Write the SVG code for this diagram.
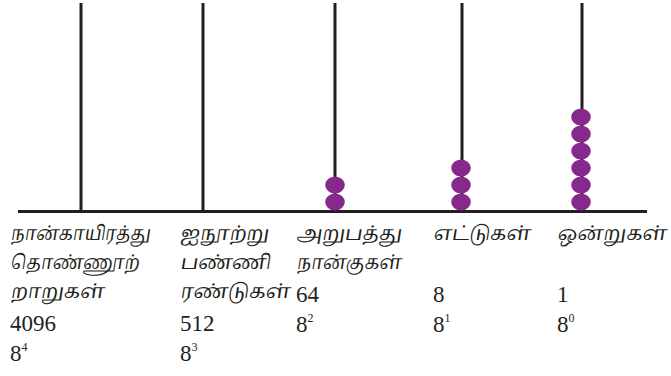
<svg xmlns="http://www.w3.org/2000/svg" width="671" height="376" viewBox="0 0 671 376">
  <style>
    .rod { stroke: #231f20; stroke-width: 3; }
    .base { stroke: #231f20; stroke-width: 3.2; }
    .bead { fill: #86288c; }
    .ta { font-family: "Noto Serif Tamil", "Noto Sans Tamil", "Lohit Tamil", "Noto Sans", sans-serif; font-size: 19.5px; fill: #231f20; }
    .num { font-family: "Liberation Serif", serif; font-size: 23px; fill: #231f20; }
    .sup { font-size: 12px; }
  </style>
  <defs>
    <ellipse id="b" rx="9.8" ry="8.6" class="bead"/>
  </defs>

  <rect width="671" height="376" fill="#ffffff"/>

  <!-- abacus frame: base bar and five rods -->
  <g id="frame">
    <line class="base" x1="18" y1="211.5" x2="647" y2="211.5"/>
    <line class="rod" x1="81" y1="3" x2="81" y2="211"/>
    <line class="rod" x1="203" y1="3" x2="203" y2="211"/>
    <line class="rod" x1="335" y1="3" x2="335" y2="211"/>
    <line class="rod" x1="462" y1="3" x2="462" y2="211"/>
    <line class="rod" x1="582" y1="3" x2="582" y2="211"/>
  </g>

  <!-- beads: 0, 0, 2, 3, 6 -->
  <g id="beads-64">
    <use href="#b" x="335" y="202"/>
    <use href="#b" x="335" y="185"/>
  </g>
  <g id="beads-8">
    <use href="#b" x="461" y="202"/>
    <use href="#b" x="461" y="185"/>
    <use href="#b" x="461" y="168"/>
  </g>
  <g id="beads-1">
    <use href="#b" x="581" y="202"/>
    <use href="#b" x="581" y="185"/>
    <use href="#b" x="581" y="168"/>
    <use href="#b" x="581" y="151"/>
    <use href="#b" x="581" y="134"/>
    <use href="#b" x="581" y="117"/>
  </g>

  <!-- place-value labels (Tamil names slanted) -->
  <g id="col-4096">
    <text class="ta" transform="translate(10 240) skewX(-9)" textLength="140" lengthAdjust="spacingAndGlyphs">நான்காயிரத்து</text>
    <text class="ta" transform="translate(10 269) skewX(-9)" textLength="129" lengthAdjust="spacingAndGlyphs">தொண்ணூற்</text>
    <text class="ta" transform="translate(10 298) skewX(-9)">றாறுகள்</text>
    <text class="num" x="10" y="331">4096</text>
    <text class="num" x="10" y="361">8<tspan class="sup" dy="-10">4</tspan></text>
  </g>
  <g id="col-512">
    <text class="ta" transform="translate(180 240) skewX(-9)">ஐநூற்று</text>
    <text class="ta" transform="translate(180 269) skewX(-9)">பண்ணி</text>
    <text class="ta" transform="translate(180 298) skewX(-9)" textLength="110" lengthAdjust="spacingAndGlyphs">ரண்டுகள்</text>
    <text class="num" x="180" y="331">512</text>
    <text class="num" x="180" y="361">8<tspan class="sup" dy="-10">3</tspan></text>
  </g>
  <g id="col-64">
    <text class="ta" transform="translate(296 240) skewX(-9)">அறுபத்து</text>
    <text class="ta" transform="translate(296 269) skewX(-9)" textLength="105" lengthAdjust="spacingAndGlyphs">நான்குகள்</text>
    <text class="num" x="296" y="302">64</text>
    <text class="num" x="296" y="332">8<tspan class="sup" dy="-10">2</tspan></text>
  </g>
  <g id="col-8">
    <text class="ta" transform="translate(433 240) skewX(-9)">எட்டுகள்</text>
    <text class="num" x="433" y="302">8</text>
    <text class="num" x="433" y="332">8<tspan class="sup" dy="-10">1</tspan></text>
  </g>
  <g id="col-1">
    <text class="ta" transform="translate(557 240) skewX(-9)">ஒன்றுகள்</text>
    <text class="num" x="557" y="302">1</text>
    <text class="num" x="557" y="332">8<tspan class="sup" dy="-10">0</tspan></text>
  </g>
</svg>
